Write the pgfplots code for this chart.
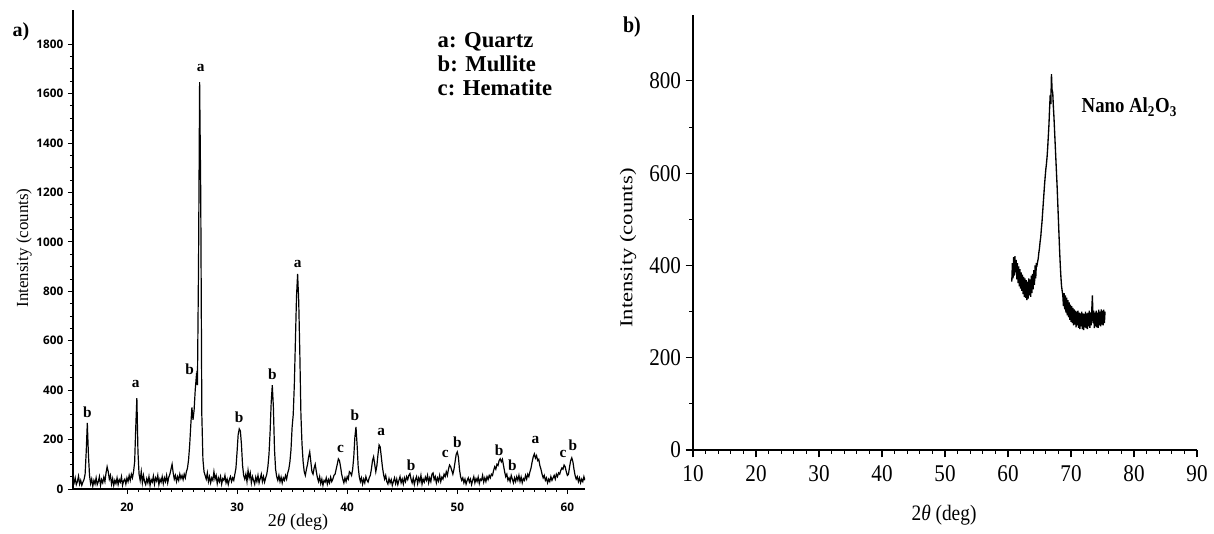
\documentclass[border=0pt]{standalone}
\usepackage{fontspec}
\setmainfont{Liberation Serif}
\newfontfamily\condserif[FakeStretch=0.88]{Liberation Serif}
\newfontfamily\ticksans{Open Sans}
\usepackage{pgfplots}
\pgfplotsset{compat=1.18}
\usepackage{pgfplotstable}

\pgfplotstableread[row sep=\\]{
x y\\
15.1 40\\ 15.2 25\\ 15.3 45\\ 15.4 18\\ 15.5 30\\ 15.6 52\\ 15.7 20\\ 15.8 35\\ 15.9 15\\ 16.0 28\\
16.1 38\\ 16.2 60\\ 16.3 150\\ 16.4 267\\ 16.5 140\\ 16.6 55\\ 16.7 22\\ 16.8 40\\ 16.9 12\\ 17.0 35\\
17.1 20\\ 17.2 45\\ 17.3 18\\ 17.4 30\\ 17.5 50\\ 17.6 15\\ 17.7 38\\ 17.8 25\\ 17.9 48\\ 18.0 30\\
18.1 65\\ 18.2 90\\ 18.3 70\\ 18.4 40\\ 18.5 55\\ 18.6 20\\ 18.7 42\\ 18.8 15\\ 18.9 35\\ 19.0 22\\
19.1 45\\ 19.2 18\\ 19.3 38\\ 19.4 28\\ 19.5 50\\ 19.6 15\\ 19.7 33\\ 19.8 40\\ 19.9 20\\ 20.0 45\\
20.1 30\\ 20.2 55\\ 20.3 35\\ 20.4 60\\ 20.5 45\\ 20.6 70\\ 20.7 110\\ 20.8 250\\ 20.9 368\\ 21.0 150\\
21.1 60\\ 21.2 35\\ 21.3 70\\ 21.4 25\\ 21.5 55\\ 21.6 30\\ 21.7 18\\ 21.8 42\\ 21.9 25\\ 22.0 50\\
22.1 15\\ 22.2 38\\ 22.3 28\\ 22.4 52\\ 22.5 20\\ 22.6 45\\ 22.7 32\\ 22.8 55\\ 22.9 18\\ 23.0 40\\
23.1 28\\ 23.2 50\\ 23.3 22\\ 23.4 45\\ 23.5 30\\ 23.6 55\\ 23.7 25\\ 23.8 48\\ 23.9 60\\ 24.0 80\\
24.1 100\\ 24.2 65\\ 24.3 40\\ 24.4 55\\ 24.5 30\\ 24.6 50\\ 24.7 35\\ 24.8 60\\ 24.9 42\\ 25.0 55\\
25.1 38\\ 25.2 60\\ 25.3 45\\ 25.4 70\\ 25.5 85\\ 25.6 120\\ 25.7 180\\ 25.8 260\\ 25.9 330\\ 26.0 280\\
26.1 320\\ 26.2 400\\ 26.3 455\\ 26.4 420\\ 26.5 900\\ 26.6 1646\\ 26.7 1200\\ 26.8 300\\ 26.9 120\\ 27.0 70\\
27.1 55\\ 27.2 40\\ 27.3 65\\ 27.4 30\\ 27.5 50\\ 27.6 25\\ 27.7 45\\ 27.8 35\\ 27.9 70\\ 28.0 40\\
28.1 55\\ 28.2 22\\ 28.3 45\\ 28.4 30\\ 28.5 50\\ 28.6 20\\ 28.7 42\\ 28.8 35\\ 28.9 55\\ 29.0 25\\
29.1 40\\ 29.2 18\\ 29.3 38\\ 29.4 50\\ 29.5 30\\ 29.6 45\\ 29.7 35\\ 29.8 60\\ 29.9 85\\ 30.0 150\\
30.1 220\\ 30.2 243\\ 30.3 235\\ 30.4 180\\ 30.5 95\\ 30.6 55\\ 30.7 40\\ 30.8 60\\ 30.9 30\\ 31.0 75\\
31.1 45\\ 31.2 65\\ 31.3 25\\ 31.4 50\\ 31.5 35\\ 31.6 20\\ 31.7 48\\ 31.8 30\\ 31.9 55\\ 32.0 25\\
32.1 42\\ 32.2 60\\ 32.3 30\\ 32.4 50\\ 32.5 28\\ 32.6 45\\ 32.7 60\\ 32.8 90\\ 32.9 140\\ 33.0 230\\
33.1 350\\ 33.2 420\\ 33.3 330\\ 33.4 160\\ 33.5 80\\ 33.6 50\\ 33.7 35\\ 33.8 55\\ 33.9 30\\ 34.0 48\\
34.1 25\\ 34.2 45\\ 34.3 35\\ 34.4 55\\ 34.5 40\\ 34.6 65\\ 34.7 80\\ 34.8 110\\ 34.9 160\\ 35.0 250\\
35.1 300\\ 35.2 420\\ 35.3 600\\ 35.4 780\\ 35.5 870\\ 35.6 760\\ 35.7 550\\ 35.8 300\\ 35.9 180\\ 36.0 110\\
36.1 70\\ 36.2 55\\ 36.3 80\\ 36.4 100\\ 36.5 130\\ 36.6 150\\ 36.7 110\\ 36.8 70\\ 36.9 60\\ 37.0 85\\
37.1 100\\ 37.2 70\\ 37.3 45\\ 37.4 30\\ 37.5 50\\ 37.6 22\\ 37.7 40\\ 37.8 15\\ 37.9 35\\ 38.0 28\\
38.1 45\\ 38.2 20\\ 38.3 38\\ 38.4 25\\ 38.5 48\\ 38.6 30\\ 38.7 40\\ 38.8 55\\ 38.9 60\\ 39.0 80\\
39.1 100\\ 39.2 122\\ 39.3 115\\ 39.4 90\\ 39.5 60\\ 39.6 40\\ 39.7 25\\ 39.8 45\\ 39.9 30\\ 40.0 50\\
40.1 40\\ 40.2 70\\ 40.3 65\\ 40.4 55\\ 40.5 80\\ 40.6 130\\ 40.7 210\\ 40.8 251\\ 40.9 180\\ 41.0 90\\
41.1 50\\ 41.2 30\\ 41.3 45\\ 41.4 20\\ 41.5 40\\ 41.6 25\\ 41.7 50\\ 41.8 35\\ 41.9 28\\ 42.0 45\\
42.1 55\\ 42.2 80\\ 42.3 115\\ 42.4 130\\ 42.5 100\\ 42.6 70\\ 42.7 95\\ 42.8 140\\ 42.9 178\\ 43.0 170\\
43.1 130\\ 43.2 90\\ 43.3 60\\ 43.4 40\\ 43.5 55\\ 43.6 30\\ 43.7 20\\ 43.8 42\\ 43.9 25\\ 44.0 38\\
44.1 15\\ 44.2 30\\ 44.3 45\\ 44.4 22\\ 44.5 40\\ 44.6 18\\ 44.7 35\\ 44.8 50\\ 44.9 25\\ 45.0 40\\
45.1 20\\ 45.2 45\\ 45.3 30\\ 45.4 50\\ 45.5 38\\ 45.6 55\\ 45.7 62\\ 45.8 40\\ 45.9 25\\ 46.0 45\\
46.1 18\\ 46.2 38\\ 46.3 50\\ 46.4 22\\ 46.5 45\\ 46.6 30\\ 46.7 55\\ 46.8 20\\ 46.9 40\\ 47.0 28\\
47.1 48\\ 47.2 35\\ 47.3 55\\ 47.4 25\\ 47.5 45\\ 47.6 30\\ 47.7 60\\ 47.8 65\\ 47.9 38\\ 48.0 50\\
48.1 25\\ 48.2 45\\ 48.3 32\\ 48.4 55\\ 48.5 30\\ 48.6 48\\ 48.7 40\\ 48.8 60\\ 48.9 50\\ 49.0 70\\
49.1 55\\ 49.2 80\\ 49.3 97\\ 49.4 90\\ 49.5 75\\ 49.6 60\\ 49.7 80\\ 49.8 110\\ 49.9 140\\ 50.0 150\\
50.1 130\\ 50.2 80\\ 50.3 50\\ 50.4 35\\ 50.5 45\\ 50.6 25\\ 50.7 40\\ 50.8 20\\ 50.9 35\\ 51.0 45\\
51.1 28\\ 51.2 40\\ 51.3 18\\ 51.4 35\\ 51.5 50\\ 51.6 25\\ 51.7 42\\ 51.8 30\\ 51.9 48\\ 52.0 22\\
52.1 40\\ 52.2 35\\ 52.3 55\\ 52.4 28\\ 52.5 45\\ 52.6 30\\ 52.7 50\\ 52.8 38\\ 52.9 55\\ 53.0 45\\
53.1 60\\ 53.2 55\\ 53.3 75\\ 53.4 90\\ 53.5 80\\ 53.6 100\\ 53.7 95\\ 53.8 115\\ 53.9 122\\ 54.0 110\\
54.1 120\\ 54.2 95\\ 54.3 70\\ 54.4 50\\ 54.5 60\\ 54.6 35\\ 54.7 45\\ 54.8 30\\ 54.9 55\\ 55.0 40\\
55.1 25\\ 55.2 45\\ 55.3 30\\ 55.4 50\\ 55.5 35\\ 55.6 55\\ 55.7 30\\ 55.8 48\\ 55.9 25\\ 56.0 42\\
56.1 35\\ 56.2 55\\ 56.3 40\\ 56.4 60\\ 56.5 50\\ 56.6 70\\ 56.7 85\\ 56.8 110\\ 56.9 130\\ 57.0 142\\
57.1 125\\ 57.2 135\\ 57.3 115\\ 57.4 120\\ 57.5 95\\ 57.6 80\\ 57.7 60\\ 57.8 45\\ 57.9 55\\ 58.0 35\\
58.1 45\\ 58.2 25\\ 58.3 40\\ 58.4 30\\ 58.5 50\\ 58.6 35\\ 58.7 45\\ 58.8 55\\ 58.9 40\\ 59.0 60\\
59.1 50\\ 59.2 65\\ 59.3 60\\ 59.4 75\\ 59.5 85\\ 59.6 80\\ 59.7 97\\ 59.8 90\\ 59.9 70\\ 60.0 55\\
60.1 60\\ 60.2 90\\ 60.3 115\\ 60.4 126\\ 60.5 110\\ 60.6 80\\ 60.7 55\\ 60.8 40\\ 60.9 50\\ 61.0 30\\
61.1 45\\ 61.2 25\\ 61.3 40\\ 61.4 30\\ 61.5 50\\ 61.6 35\\
}\leftdata

\pgfplotstableread[row sep=\\]{
x y\\
60.6 365\\ 60.7 405\\ 60.8 372\\ 60.9 418\\ 61.0 378\\ 61.1 420\\ 61.2 385\\ 61.3 412\\ 61.4 370\\ 61.5 405\\
61.6 362\\ 61.7 398\\ 61.8 355\\ 61.9 392\\ 62.0 350\\ 62.1 385\\ 62.2 345\\ 62.3 380\\ 62.4 338\\ 62.5 375\\
62.6 332\\ 62.7 372\\ 62.8 330\\ 62.9 368\\ 63.0 325\\ 63.1 365\\ 63.2 328\\ 63.3 372\\ 63.4 335\\ 63.5 370\\
63.6 332\\ 63.7 378\\ 63.8 340\\ 63.9 382\\ 64.0 348\\ 64.1 390\\ 64.2 358\\ 64.3 400\\ 64.4 372\\ 64.5 402\\
64.6 400\\ 64.7 408\\ 64.8 415\\ 64.9 428\\ 65.0 438\\ 65.1 452\\ 65.2 462\\ 65.3 480\\ 65.4 495\\ 65.5 515\\
65.6 535\\ 65.7 555\\ 65.8 575\\ 65.9 592\\ 66.0 608\\ 66.1 620\\ 66.2 635\\ 66.3 655\\ 66.4 680\\ 66.5 705\\
66.6 740\\ 66.7 770\\ 66.8 750\\ 66.9 815\\ 67.0 780\\ 67.1 775\\ 67.2 745\\ 67.3 720\\ 67.4 690\\ 67.5 660\\
67.6 630\\ 67.7 600\\ 67.8 570\\ 67.9 535\\ 68.0 500\\ 68.1 465\\ 68.2 430\\ 68.3 400\\ 68.4 375\\ 68.5 355\\
68.6 345\\ 68.7 335\\ 68.8 312\\ 68.9 340\\ 69.0 305\\ 69.1 335\\ 69.2 298\\ 69.3 330\\ 69.4 292\\ 69.5 325\\
69.6 288\\ 69.7 320\\ 69.8 282\\ 69.9 315\\ 70.0 278\\ 70.1 312\\ 70.2 275\\ 70.3 308\\ 70.4 270\\ 70.5 305\\
70.6 272\\ 70.7 302\\ 70.8 266\\ 70.9 300\\ 71.0 270\\ 71.1 302\\ 71.2 265\\ 71.3 298\\ 71.4 262\\ 71.5 296\\
71.6 268\\ 71.7 300\\ 71.8 262\\ 71.9 296\\ 72.0 260\\ 72.1 295\\ 72.2 266\\ 72.3 300\\ 72.4 264\\ 72.5 296\\
72.6 262\\ 72.7 298\\ 72.8 268\\ 72.9 302\\ 73.0 265\\ 73.1 298\\ 73.2 270\\ 73.3 305\\ 73.4 335\\ 73.5 275\\
73.6 302\\ 73.7 264\\ 73.8 298\\ 73.9 268\\ 74.0 302\\ 74.1 266\\ 74.2 298\\ 74.3 265\\ 74.4 304\\ 74.5 270\\
74.6 300\\ 74.7 268\\ 74.8 305\\ 74.9 272\\ 75.0 302\\ 75.1 270\\ 75.2 304\\ 75.3 275\\ 75.4 300\\
}\rightdata

\begin{document}
\begin{tikzpicture}[x=0.75pt,y=0.75pt]
\useasboundingbox (0,0) rectangle (1214,534);

% ---------- panel a ----------
\begin{axis}[
  at={(54.75pt,33.75pt)}, anchor=south west,
  scale only axis, width=384pt, height=359.25pt,
  xmin=15.1, xmax=61.6, ymin=0, ymax=1938,
  axis x line*=bottom, axis y line*=left,
  axis line style={-, line width=0.9pt},
  xtick={20,30,...,60}, minor x tick num=9,
  ytick={0,200,...,1800}, minor y tick num=3,
  tick align=outside,
  major tick length=3.75pt, minor tick length=2.25pt,
  every tick/.style={black, line width=0.6pt},
  ticklabel style={font=\ticksans\bfseries\fontsize{8.8}{9}\selectfont},
  xticklabel style={yshift=-3pt},
  /pgf/number format/assume math mode=true,
  /pgf/number format/1000 sep={},
]
\addplot[black, line width=0.9pt] table[x=x,y=y] {\leftdata};
\begin{scope}[every node/.style={font=\bfseries\fontsize{11.5}{11.5}\selectfont}]
\node at (axis cs:16.4,312) {b};
\node at (axis cs:20.8,425) {a};
\node at (axis cs:25.7,486) {b};
\node at (axis cs:26.7,1702) {a};
\node at (axis cs:30.2,292) {b};
\node at (axis cs:33.2,466) {b};
\node at (axis cs:35.5,912) {a};
\node at (axis cs:39.4,162) {c};
\node at (axis cs:40.7,300) {b};
\node at (axis cs:43.1,231) {a};
\node at (axis cs:45.8,97) {b};
\node at (axis cs:48.9,142) {c};
\node at (axis cs:50.0,190) {b};
\node at (axis cs:53.8,158) {b};
\node at (axis cs:55.0,97) {b};
\node at (axis cs:57.1,199) {a};
\node at (axis cs:59.6,142) {c};
\node at (axis cs:60.5,178) {b};
\end{scope}
\end{axis}

% ---------- panel b ----------
\begin{axis}[
  at={(519.75pt,63pt)}, anchor=south west,
  scale only axis, width=378pt, height=326.25pt,
  xmin=10, xmax=90, ymin=0, ymax=943,
  axis x line*=bottom, axis y line*=left,
  axis line style={-, line width=1pt},
  xtick={10,20,...,90}, minor x tick num=4,
  ytick={0,200,...,800}, minor y tick num=1,
  tick align=outside,
  major tick length=5.5pt, minor tick length=3pt,
  every tick/.style={black, line width=0.8pt},
  ticklabel style={font=\condserif\fontsize{18}{18}\selectfont},
  xticklabel style={yshift=-3pt},
  /pgf/number format/assume math mode=true,
  /pgf/number format/1000 sep={},
]
\addplot[black, line width=1pt] table[x=x,y=y] {\rightdata};
\end{axis}

% ---------- texts ----------
\node[font=\bfseries\fontsize{15}{15}\selectfont] at (21,502) {a)};
\node[font=\condserif\bfseries\fontsize{17}{17}\selectfont] at (632,507) {b)};
\node[anchor=west, align=left, font=\bfseries\fontsize{17}{18}\selectfont] at (433,470) {a: Quartz\\b: Mullite\\c: Hematite};
\node[rotate=90, font=\fontsize{12.7}{12.7}\selectfont] at (24,286) {Intensity (counts)};
\node[font=\fontsize{13.5}{13.5}\selectfont] at (298,12) {2\textit{θ} (deg)};
\node[rotate=90, font=\fontsize{17}{17}\selectfont] at (628,286) {\scalebox{1}[0.8]{Intensity (counts)}};
\node[font=\condserif\fontsize{16.5}{16.5}\selectfont] at (944,19) {2\textit{θ} (deg)};
\node[anchor=west, font=\condserif\bfseries\fontsize{16}{16}\selectfont] at (1077,427) {Nano Al\textsubscript{2}O\textsubscript{3}};
\end{tikzpicture}
\end{document}
